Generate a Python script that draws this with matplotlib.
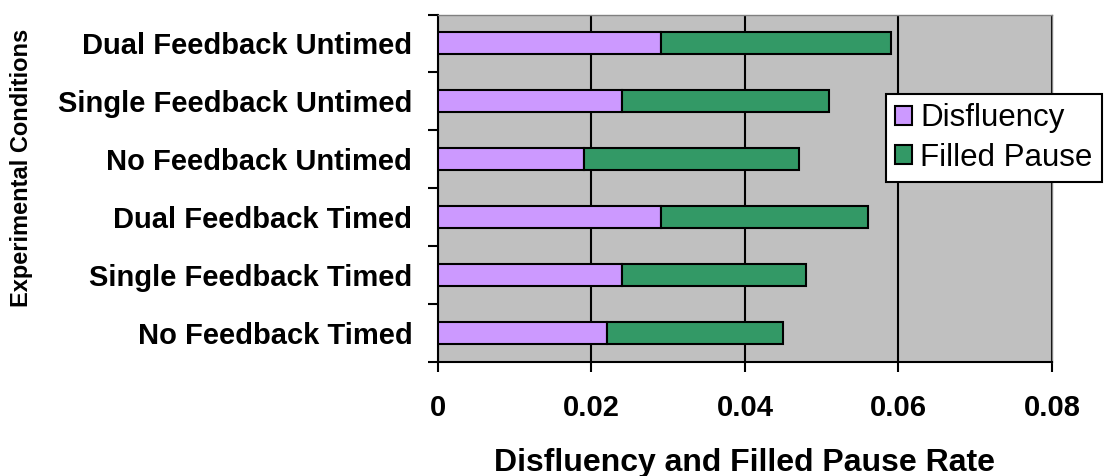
import numpy as np
import matplotlib
matplotlib.use('Agg')
import matplotlib.pyplot as plt

plt.rcParams['font.family'] = ['Liberation Sans', 'DejaVu Sans']

conditions = ['No Feedback Timed', 'Single Feedback Timed', 'Dual Feedback Timed',
              'No Feedback Untimed', 'Single Feedback Untimed', 'Dual Feedback Untimed']
disfluency = [0.022, 0.024, 0.029, 0.019, 0.024, 0.029]
filled_pause = [0.023, 0.024, 0.027, 0.028, 0.027, 0.030]
x_ticks = [0, 0.02, 0.04, 0.06, 0.08]
x_labels = ['0', '0.02', '0.04', '0.06', '0.08']

fig = plt.figure(figsize=(11.1, 4.76), dpi=100)
ax = fig.add_axes([0.3946, 0.240, 0.5531, 0.7295])
ax.set_facecolor('#C0C0C0')

y = np.arange(len(conditions))
ax.barh(y, disfluency, height=0.38, color='#CC99FF', edgecolor='black', linewidth=1.5,
        label='Disfluency', zorder=3)
ax.barh(y, filled_pause, left=disfluency, height=0.38, color='#339966', edgecolor='black',
        linewidth=1.5, label='Filled Pause', zorder=3)

ax.set_xlim(0, 0.08)
ax.set_ylim(-0.5, len(conditions) - 0.5)
ax.set_xticks(x_ticks)
ax.set_xticklabels(x_labels, fontsize=21, fontweight='bold')
ax.tick_params(axis='x', direction='out', length=7, width=1.5, pad=16)
ax.xaxis.grid(True, color='black', linewidth=1.5, zorder=1)
ax.set_axisbelow(True)

ax.set_yticks(y)
ax.set_yticklabels(conditions, fontsize=21, fontweight='bold')
ax.set_yticks(np.arange(-0.5, len(conditions), 1.0), minor=True)
ax.tick_params(axis='y', which='major', length=0, pad=18.5)
ax.tick_params(axis='y', which='minor', direction='out', length=7, width=1.5)

for s in ['left', 'bottom']:
    ax.spines[s].set_linewidth(1.5)
for s in ['top', 'right']:
    ax.spines[s].set_color('#808080')
    ax.spines[s].set_linewidth(1)

fig.text(0.6707, 0.027, 'Disfluency and Filled Pause Rate', fontsize=23, fontweight='bold',
         ha='center', va='center')
fig.text(0.019, 0.647, 'Experimental Conditions', rotation=90, fontsize=17, fontweight='bold',
         ha='center', va='center')

handles, labels = ax.get_legend_handles_labels()
leg = fig.legend(handles, labels, loc='upper left', bbox_to_anchor=(0.798, 0.8025),
                 fontsize=22.5, frameon=True, fancybox=False, edgecolor='black', framealpha=1,
                 handlelength=0.55, handleheight=0.55, handletextpad=0.25, borderpad=0.3,
                 labelspacing=0.3, borderaxespad=0)
leg.get_frame().set_linewidth(1.5)

fig.savefig('out.png', dpi=100)
